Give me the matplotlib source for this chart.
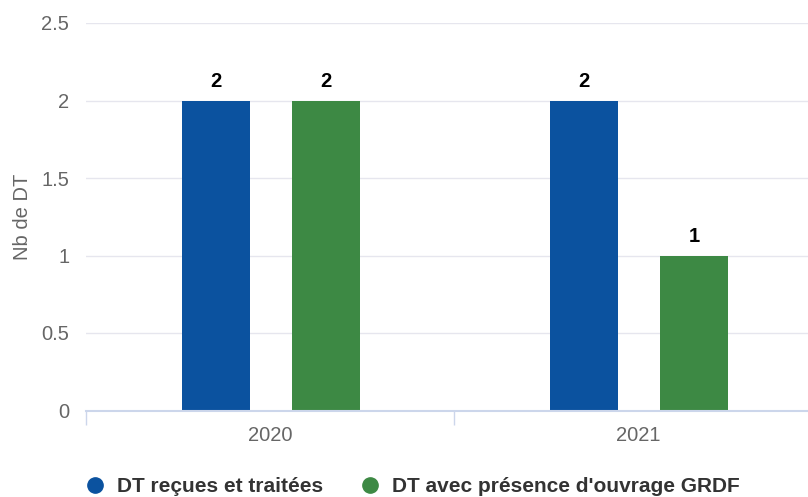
import matplotlib.pyplot as plt
from matplotlib.lines import Line2D
import numpy as np

plt.rcParams['font.family'] = ['Liberation Sans', 'DejaVu Sans']

annees = ["2020", "2021"]
dt_recues = [2, 2]
dt_grdf = [2, 1]
series = ["DT reçues et traitées", "DT avec présence d'ouvrage GRDF"]
couleurs = ["#0b529f", "#3d8944"]
yticks = [0, 0.5, 1, 1.5, 2, 2.5]

fig = plt.figure(figsize=(8.08, 4.97), dpi=100)
ax = fig.add_axes([86 / 808, (497 - 410.5) / 497, (822 - 86) / 808, (410.5 - 23) / 497])

x = np.arange(len(annees))
largeur = 0.185
b1 = ax.bar(x - 0.147, dt_recues, largeur, color=couleurs[0], zorder=3)
b2 = ax.bar(x + 0.152, dt_grdf, largeur, color=couleurs[1], zorder=3)

# etiquettes de donnees
for barres in (b1, b2):
    ax.bar_label(barres, padding=7, fontsize=14.5, fontweight='bold', color='black')

ax.set_xlim(-0.5, 1.5)
ax.set_ylim(0, 2.5)
ax.set_yticks(yticks)
ax.set_yticklabels([f"{v:g}" for v in yticks])
ax.grid(axis='y', color='#e6e6ee', linewidth=1, zorder=0)
ax.tick_params(axis='y', length=0, pad=12, labelsize=14.5, labelcolor='#666666')

ax.set_xticks(x)
ax.set_xticklabels(annees)
ax.set_xticks([-0.5, 0.5, 1.5], minor=True)
ax.tick_params(axis='x', which='major', length=0, pad=11, labelsize=14.5, labelcolor='#666666')
ax.tick_params(axis='x', which='minor', length=10, width=1, color='#ccd6eb')

for s in ['top', 'right', 'left']:
    ax.spines[s].set_visible(False)
ax.spines['bottom'].set_color('#ccd6eb')
ax.spines['bottom'].set_linewidth(1.5)
ax.spines['bottom'].set_zorder(4)

ax.set_ylabel("Nb de DT", fontsize=14.5, color='#666666')
ax.yaxis.set_label_coords(-54 / 736, 0.5)

# legende
poignees = [Line2D([0], [0], marker='o', linestyle='', markersize=11,
                   markerfacecolor=c, markeredgecolor=c) for c in couleurs]
fig.legend(poignees, series, loc='center left', bbox_to_anchor=(66 / 808, 1 - 487 / 497),
           ncol=2, frameon=False, handletextpad=0.55, columnspacing=1.75, handlelength=1,
           prop={'weight': 'bold', 'size': 15}, labelcolor='#333333')

fig.savefig("out.png", dpi=100)
